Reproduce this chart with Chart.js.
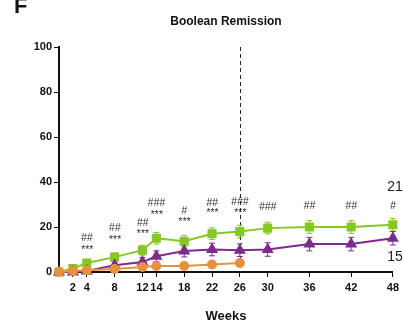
<!DOCTYPE html>
<html>
<head>
<meta charset="utf-8">
<script src="https://cdn.jsdelivr.net/npm/chart.js@4/dist/chart.umd.min.js"></script>
<style>
  html, body { margin: 0; padding: 0; background: #fff; }
  #wrap { width: 403px; height: 323px; }
</style>
</head>
<body>
<div id="wrap"><canvas id="graph1" width="403" height="323"></canvas></div>
<script>
// weeks and series (% in Boolean remission)
var weeks = [0, 2, 4, 8, 12, 14, 18, 22, 26, 30, 36, 42, 48];
var xTicks = [2, 4, 8, 12, 14, 18, 22, 26, 30, 36, 42, 48];
var yTicks = [0, 20, 40, 60, 80, 100];

var greenVals  = [0, 1.5, 4, 6.6, 9.7, 15, 13.7, 17, 18, 19.5, 20, 20, 21];
var greenErr   = [0, 0.8, 1.2, 1.8, 2.2, 2.6, 2.6, 2.6, 2.8, 2.6, 2.8, 2.8, 2.8];
var purpleVals = [0, 0, 0.5, 3, 4.4, 7, 9.3, 10, 9.7, 10, 12.4, 12.4, 15];
var purpleErr  = [0, 0, 0.6, 1.5, 2, 2.4, 2.6, 2.8, 2.8, 3, 3, 3, 3];
var orangeWeeks = [0, 2, 4, 8, 12, 14, 18, 22, 26];
var orangeVals  = [0, 0.5, 0.8, 1.3, 2.2, 2.7, 2.7, 3.3, 4];
var orangeErr   = [0, 0.4, 0.5, 0.7, 0.9, 1, 1, 1.2, 1.5];

// significance marks: [week, y value, text]
var sigMarks = [
  [4, 15.1, '##'], [4, 9.8, '***'],
  [8, 19.6, '##'], [8, 14.2, '***'],
  [12, 21.8, '##'], [12, 16.9, '***'],
  [14, 30.7, '###'], [14, 25.3, '***'],
  [18, 27.1, '#'], [18, 22.2, '***'],
  [22, 30.7, '##'], [22, 26.2, '***'],
  [26, 31.1, '###'], [26, 26.2, '***'],
  [30, 28.9, '###'],
  [36, 29.3, '##'], [42, 29.3, '##'], [48, 29.3, '#']
];
var endLabels = [[47.2, 37.8, '21'], [47.2, 6.7, '15']];
var dashWeek = 26;

var green = '#84c91f', purple = '#7d2b8e', orange = '#e8913a';
var FONT = '"Liberation Sans", Arial, sans-serif';

function pts(xs, ys) {
  return xs.map(function (x, i) { return { x: x, y: ys[i] }; });
}

var extras = {
  id: 'extras',
  beforeDatasetsDraw: function (chart) {
    var ctx = chart.ctx, xs = chart.scales.x, ys = chart.scales.y;
    // dashed line at week 26
    ctx.save();
    ctx.strokeStyle = '#222';
    ctx.lineWidth = 1;
    ctx.setLineDash([4, 3]);
    var px = Math.round(xs.getPixelForValue(dashWeek)) + 0.5;
    ctx.beginPath();
    ctx.moveTo(px, ys.getPixelForValue(100));
    ctx.lineTo(px, ys.getPixelForValue(0));
    ctx.stroke();
    ctx.restore();
    // error bars
    var errs = [greenErr, purpleErr, orangeErr];
    chart.data.datasets.forEach(function (ds, i) {
      ctx.save();
      ctx.strokeStyle = ds.borderColor;
      ctx.lineWidth = 1;
      ds.data.forEach(function (p, j) {
        var e = errs[i][j];
        if (!e) return;
        var x = xs.getPixelForValue(p.x);
        var y1 = ys.getPixelForValue(p.y - e), y2 = ys.getPixelForValue(p.y + e);
        ctx.beginPath();
        ctx.moveTo(x, y1); ctx.lineTo(x, y2);
        ctx.moveTo(x - 3, y1); ctx.lineTo(x + 3, y1);
        ctx.moveTo(x - 3, y2); ctx.lineTo(x + 3, y2);
        ctx.stroke();
      });
      ctx.restore();
    });
  },
  afterDraw: function (chart) {
    var ctx = chart.ctx, xs = chart.scales.x, ys = chart.scales.y;
    ctx.save();
    ctx.fillStyle = '#333';
    ctx.textAlign = 'center';
    ctx.textBaseline = 'middle';
    ctx.font = 'italic 10.5px ' + FONT;
    sigMarks.forEach(function (m) {
      ctx.fillText(m[2], xs.getPixelForValue(m[0]), ys.getPixelForValue(m[1]));
    });
    ctx.fillStyle = '#222';
    ctx.textAlign = 'left';
    ctx.font = '14px ' + FONT;
    endLabels.forEach(function (m) {
      ctx.fillText(m[2], xs.getPixelForValue(m[0]), ys.getPixelForValue(m[1]));
    });
    ctx.fillStyle = '#111';
    ctx.font = 'bold 12px ' + FONT;
    ctx.textAlign = 'center';
    ctx.fillText('Boolean Remission', (chart.chartArea.left + chart.chartArea.right) / 2, 22);
    ctx.font = 'bold 22px ' + FONT;
    ctx.textAlign = 'left';
    ctx.fillText('F', 14, 7);
    ctx.restore();
  }
};

var context = document.getElementById('graph1').getContext('2d');
var chart = new Chart(context, {
  type: 'line',
  data: {
    datasets: [
      {
        label: 'Green',
        data: pts(weeks, greenVals),
        borderColor: green,
        backgroundColor: green,
        borderWidth: 2,
        pointStyle: 'rect',
        pointRadius: 5,
        order: 3
      },
      {
        label: 'Purple',
        data: pts(weeks, purpleVals),
        borderColor: purple,
        backgroundColor: purple,
        borderWidth: 2,
        pointStyle: 'triangle',
        pointRadius: 5,
        order: 2
      },
      {
        label: 'Orange',
        data: pts(orangeWeeks, orangeVals),
        borderColor: orange,
        backgroundColor: orange,
        borderWidth: 2,
        pointStyle: 'circle',
        pointRadius: 4,
        order: 1
      }
    ]
  },
  options: {
    responsive: false,
    animation: false,
    clip: false,
    layout: { padding: { top: 47, right: 7, bottom: 0, left: 0 } },
    plugins: { legend: { display: false }, tooltip: { enabled: false }, title: { display: false } },
    scales: {
      x: {
        type: 'linear',
        min: 0,
        max: 48,
        afterBuildTicks: function (s) { s.ticks = xTicks.map(function (v) { return { value: v }; }); },
        afterFit: function (s) { s.height = 51; },
        grid: { drawOnChartArea: false, drawTicks: true, tickLength: 5, color: '#111', lineWidth: 1 },
        border: { color: '#111', width: 2 },
        ticks: { color: '#111', padding: 4, maxRotation: 0, autoSkip: false, font: { family: FONT, size: 11, weight: 'bold' } },
        title: { display: true, text: 'Weeks', color: '#111', padding: { top: 17, bottom: 0 }, font: { family: FONT, size: 13, weight: 'bold', lineHeight: 1 } }
      },
      y: {
        min: 0,
        max: 100,
        afterBuildTicks: function (s) { s.ticks = yTicks.map(function (v) { return { value: v }; }); },
        afterFit: function (s) { s.width = 59; },
        grid: { drawOnChartArea: false, drawTicks: true, tickLength: 5, color: '#111', lineWidth: 1 },
        border: { color: '#111', width: 2 },
        ticks: { color: '#111', padding: 2, font: { family: FONT, size: 11, weight: 'bold' } }
      }
    }
  },
  plugins: [extras]
});
</script>
</body>
</html>
